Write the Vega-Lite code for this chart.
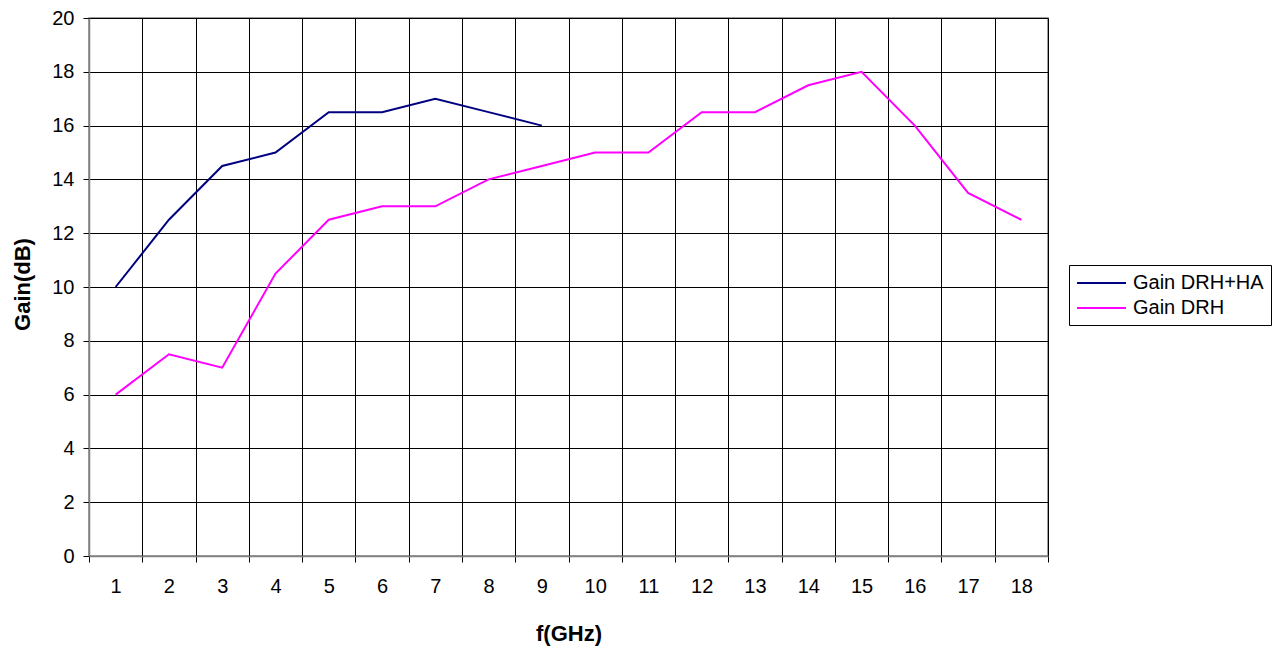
{
  "$schema": "https://vega.github.io/schema/vega-lite/v6.json",
  "width": 959,
  "height": 538,
  "autosize": {"type": "none"},
  "padding": {"left": 89, "top": 18, "right": 230, "bottom": 92},
  "background": "white",
  "config": {
    "font": "Liberation Sans",
    "view": {"stroke": "#808080", "strokeWidth": 1.5}
  },
  "data": {
    "values": [
      {"f": 1, "gain": 10, "series": "Gain DRH+HA"},
      {"f": 2, "gain": 12.5, "series": "Gain DRH+HA"},
      {"f": 3, "gain": 14.5, "series": "Gain DRH+HA"},
      {"f": 4, "gain": 15, "series": "Gain DRH+HA"},
      {"f": 5, "gain": 16.5, "series": "Gain DRH+HA"},
      {"f": 6, "gain": 16.5, "series": "Gain DRH+HA"},
      {"f": 7, "gain": 17, "series": "Gain DRH+HA"},
      {"f": 8, "gain": 16.5, "series": "Gain DRH+HA"},
      {"f": 9, "gain": 16, "series": "Gain DRH+HA"},
      {"f": 1, "gain": 6, "series": "Gain DRH"},
      {"f": 2, "gain": 7.5, "series": "Gain DRH"},
      {"f": 3, "gain": 7, "series": "Gain DRH"},
      {"f": 4, "gain": 10.5, "series": "Gain DRH"},
      {"f": 5, "gain": 12.5, "series": "Gain DRH"},
      {"f": 6, "gain": 13, "series": "Gain DRH"},
      {"f": 7, "gain": 13, "series": "Gain DRH"},
      {"f": 8, "gain": 14, "series": "Gain DRH"},
      {"f": 9, "gain": 14.5, "series": "Gain DRH"},
      {"f": 10, "gain": 15, "series": "Gain DRH"},
      {"f": 11, "gain": 15, "series": "Gain DRH"},
      {"f": 12, "gain": 16.5, "series": "Gain DRH"},
      {"f": 13, "gain": 16.5, "series": "Gain DRH"},
      {"f": 14, "gain": 17.5, "series": "Gain DRH"},
      {"f": 15, "gain": 18, "series": "Gain DRH"},
      {"f": 16, "gain": 16, "series": "Gain DRH"},
      {"f": 17, "gain": 13.5, "series": "Gain DRH"},
      {"f": 18, "gain": 12.5, "series": "Gain DRH"}
    ]
  },
  "mark": {"type": "line", "strokeWidth": 2},
  "encoding": {
    "x": {
      "field": "f",
      "type": "ordinal",
      "bandPosition": 0.5,
      "scale": {"type": "band", "paddingInner": 0, "paddingOuter": 0},
      "axis": {
        "title": "f(GHz)",
        "titleFontSize": 22,
        "titleFontWeight": "bold",
        "titleColor": "black",
        "titleY": 77,
        "titleBaseline": "middle",
        "labelAngle": 0,
        "labelFontSize": 20,
        "labelColor": "black",
        "labelPadding": 14,
        "tickBand": "extent",
        "tickSize": 6,
        "tickColor": "black",
        "domainColor": "#808080",
        "domainWidth": 1.5,
        "grid": true,
        "gridColor": "black",
        "gridWidth": 1,
        "gridOpacity": 1
      }
    },
    "y": {
      "field": "gain",
      "type": "quantitative",
      "scale": {"domain": [0, 20], "nice": false, "zero": true},
      "axis": {
        "title": "Gain(dB)",
        "titleFontSize": 22,
        "titleFontWeight": "bold",
        "titleColor": "black",
        "titleX": -67,
        "titleY": 266,
        "titleAlign": "center",
        "titleBaseline": "middle",
        "titleAngle": -90,
        "values": [0, 2, 4, 6, 8, 10, 12, 14, 16, 18, 20],
        "labelFontSize": 20,
        "labelColor": "black",
        "labelPadding": 9,
        "tickSize": 6,
        "tickColor": "black",
        "domainColor": "#808080",
        "domainWidth": 1.5,
        "grid": true,
        "gridColor": "black",
        "gridWidth": 1,
        "gridOpacity": 1
      }
    },
    "color": {
      "field": "series",
      "type": "nominal",
      "scale": {"domain": ["Gain DRH+HA", "Gain DRH"], "range": ["#000080", "#FF00FF"]},
      "legend": {
        "title": null,
        "orient": "none",
        "legendX": 980,
        "legendY": 247,
        "symbolType": "M-2.45,0H2.45",
        "symbolSize": 400,
        "symbolStrokeWidth": 2,
        "symbolFillColor": "transparent",
        "symbolOffset": 14.5,
        "labelOffset": 20.5,
        "labelFontSize": 20,
        "labelColor": "black",
        "labelLimit": 300,
        "rowPadding": 4,
        "padding": 7,
        "strokeColor": "black",
        "fillColor": "white"
      }
    }
  }
}
